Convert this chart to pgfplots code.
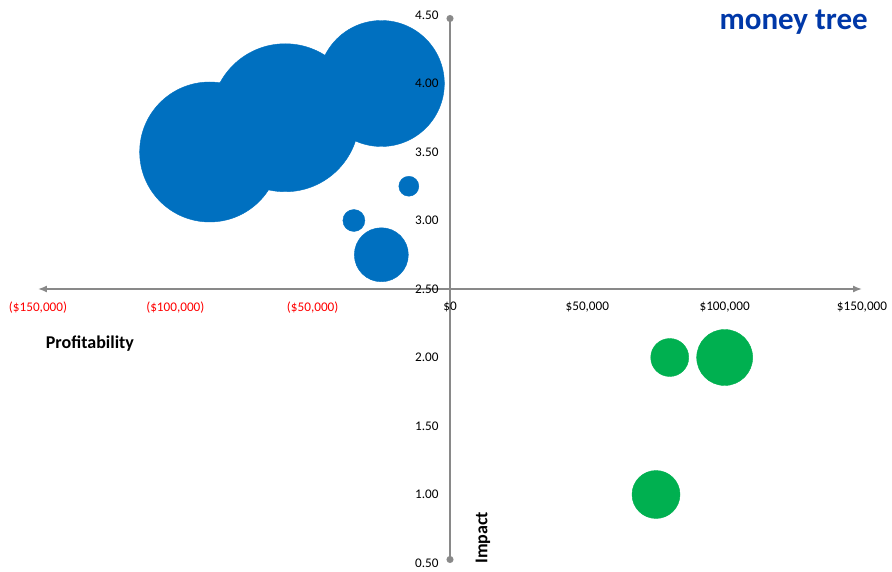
\documentclass[border=0pt]{standalone}
\usepackage{pgfplots}
\pgfplotsset{compat=1.18}
\usepackage{pgfplotstable}
\usepackage{fontspec}
\setmainfont{Carlito}
\usetikzlibrary{arrows.meta}

\definecolor{bblue}{RGB}{0,112,192}
\definecolor{bgreen}{RGB}{0,176,80}
\definecolor{axgray}{RGB}{137,137,137}
\definecolor{titleblue}{RGB}{0,56,168}
\definecolor{negred}{RGB}{255,0,0}

% profit (x), impact (y), bubble radius (r)
\pgfplotstableread{
x      y     r
-87500 3.50  70
-60000 3.75  74
-25000 4.00  63
-15000 3.25  10
-35000 3.00  11
-25000 2.75  27
}\lossmaking
\pgfplotstableread{
x      y     r
80000  2.00  19
100000 2.00  28
75000  1.00  24
}\profitable

\pgfplotsset{
  bubble/.style={
    only marks, mark=*,
    mark options={draw=#1, fill=#1},
    visualization depends on={\thisrow{r}\as\rad},
    scatter,
    scatter src=explicit,
    scatter/use mapped color={draw=#1, fill=#1},
    scatter/@pre marker code/.append style={/tikz/mark size=\rad},
  },
  frame/.style={
    at={(38pt,8pt)}, anchor=south west,
    scale only axis, width=824pt, height=548pt,
    xmin=-150000, xmax=150000,
    ymin=-2, ymax=2,
  },
}

\begin{document}
\begin{tikzpicture}[x=1pt,y=1pt]
\path[use as bounding box] (0,0) rectangle (892,571);
% bubbles underneath
\begin{axis}[frame, hide axis, clip=false]
\addplot[bubble=bblue]
  table[x=x, y expr=\thisrow{y}-2.5, meta=r] {\lossmaking};
\addplot[bubble=bgreen]
  table[x=x, y expr=\thisrow{y}-2.5, meta=r] {\profitable};
\end{axis}
% crossing axes, tick labels and titles on top
\begin{axis}[
  frame,
  axis lines=middle,
  axis line style={axgray, line width=1.4pt},
  x axis line style={{Latex[length=9pt,width=7pt]}-{Latex[length=9pt,width=7pt]}},
  y axis line style={{Circle[length=7pt]}-{Circle[length=7pt]}},
  scaled x ticks=false,
  hide obscured x ticks=false,
  hide obscured y ticks=false,
  major tick length=0pt,
  xtick={-150000,-100000,-50000,0,50000,100000,150000},
  xticklabels={{\color{negred}(\$150,000)},{\color{negred}(\$100,000)},{\color{negred}(\$50,000)},{\$0},{\$50,000},{\$100,000},{\$150,000}},
  ytick={-2,-1.5,-1,-0.5,0,0.5,1,1.5,2},
  yticklabels={0.50,1.00,1.50,2.00,2.50,3.00,3.50,4.00,4.50},
  tick label style={font=\fontsize{13.2}{15}\selectfont},
  xticklabel style={anchor=north, yshift=-9pt},
  yticklabel style={anchor=east, xshift=-8pt},
  xlabel={Profitability},
  ylabel={Impact},
  xlabel style={at={(axis description cs:0.063,0.40)}, anchor=center, font=\fontsize{18}{21}\selectfont\bfseries},
  ylabel style={at={(axis description cs:0.540,0.046)}, anchor=center, rotate=90, font=\fontsize{18}{21}\selectfont\bfseries},
  title={money tree},
  title style={at={(axis description cs:1.0073,0.962)}, anchor=base east, inner sep=0pt, text=titleblue, font=\fontsize{31}{36}\selectfont\bfseries},
]
\end{axis}
\end{tikzpicture}
\end{document}
